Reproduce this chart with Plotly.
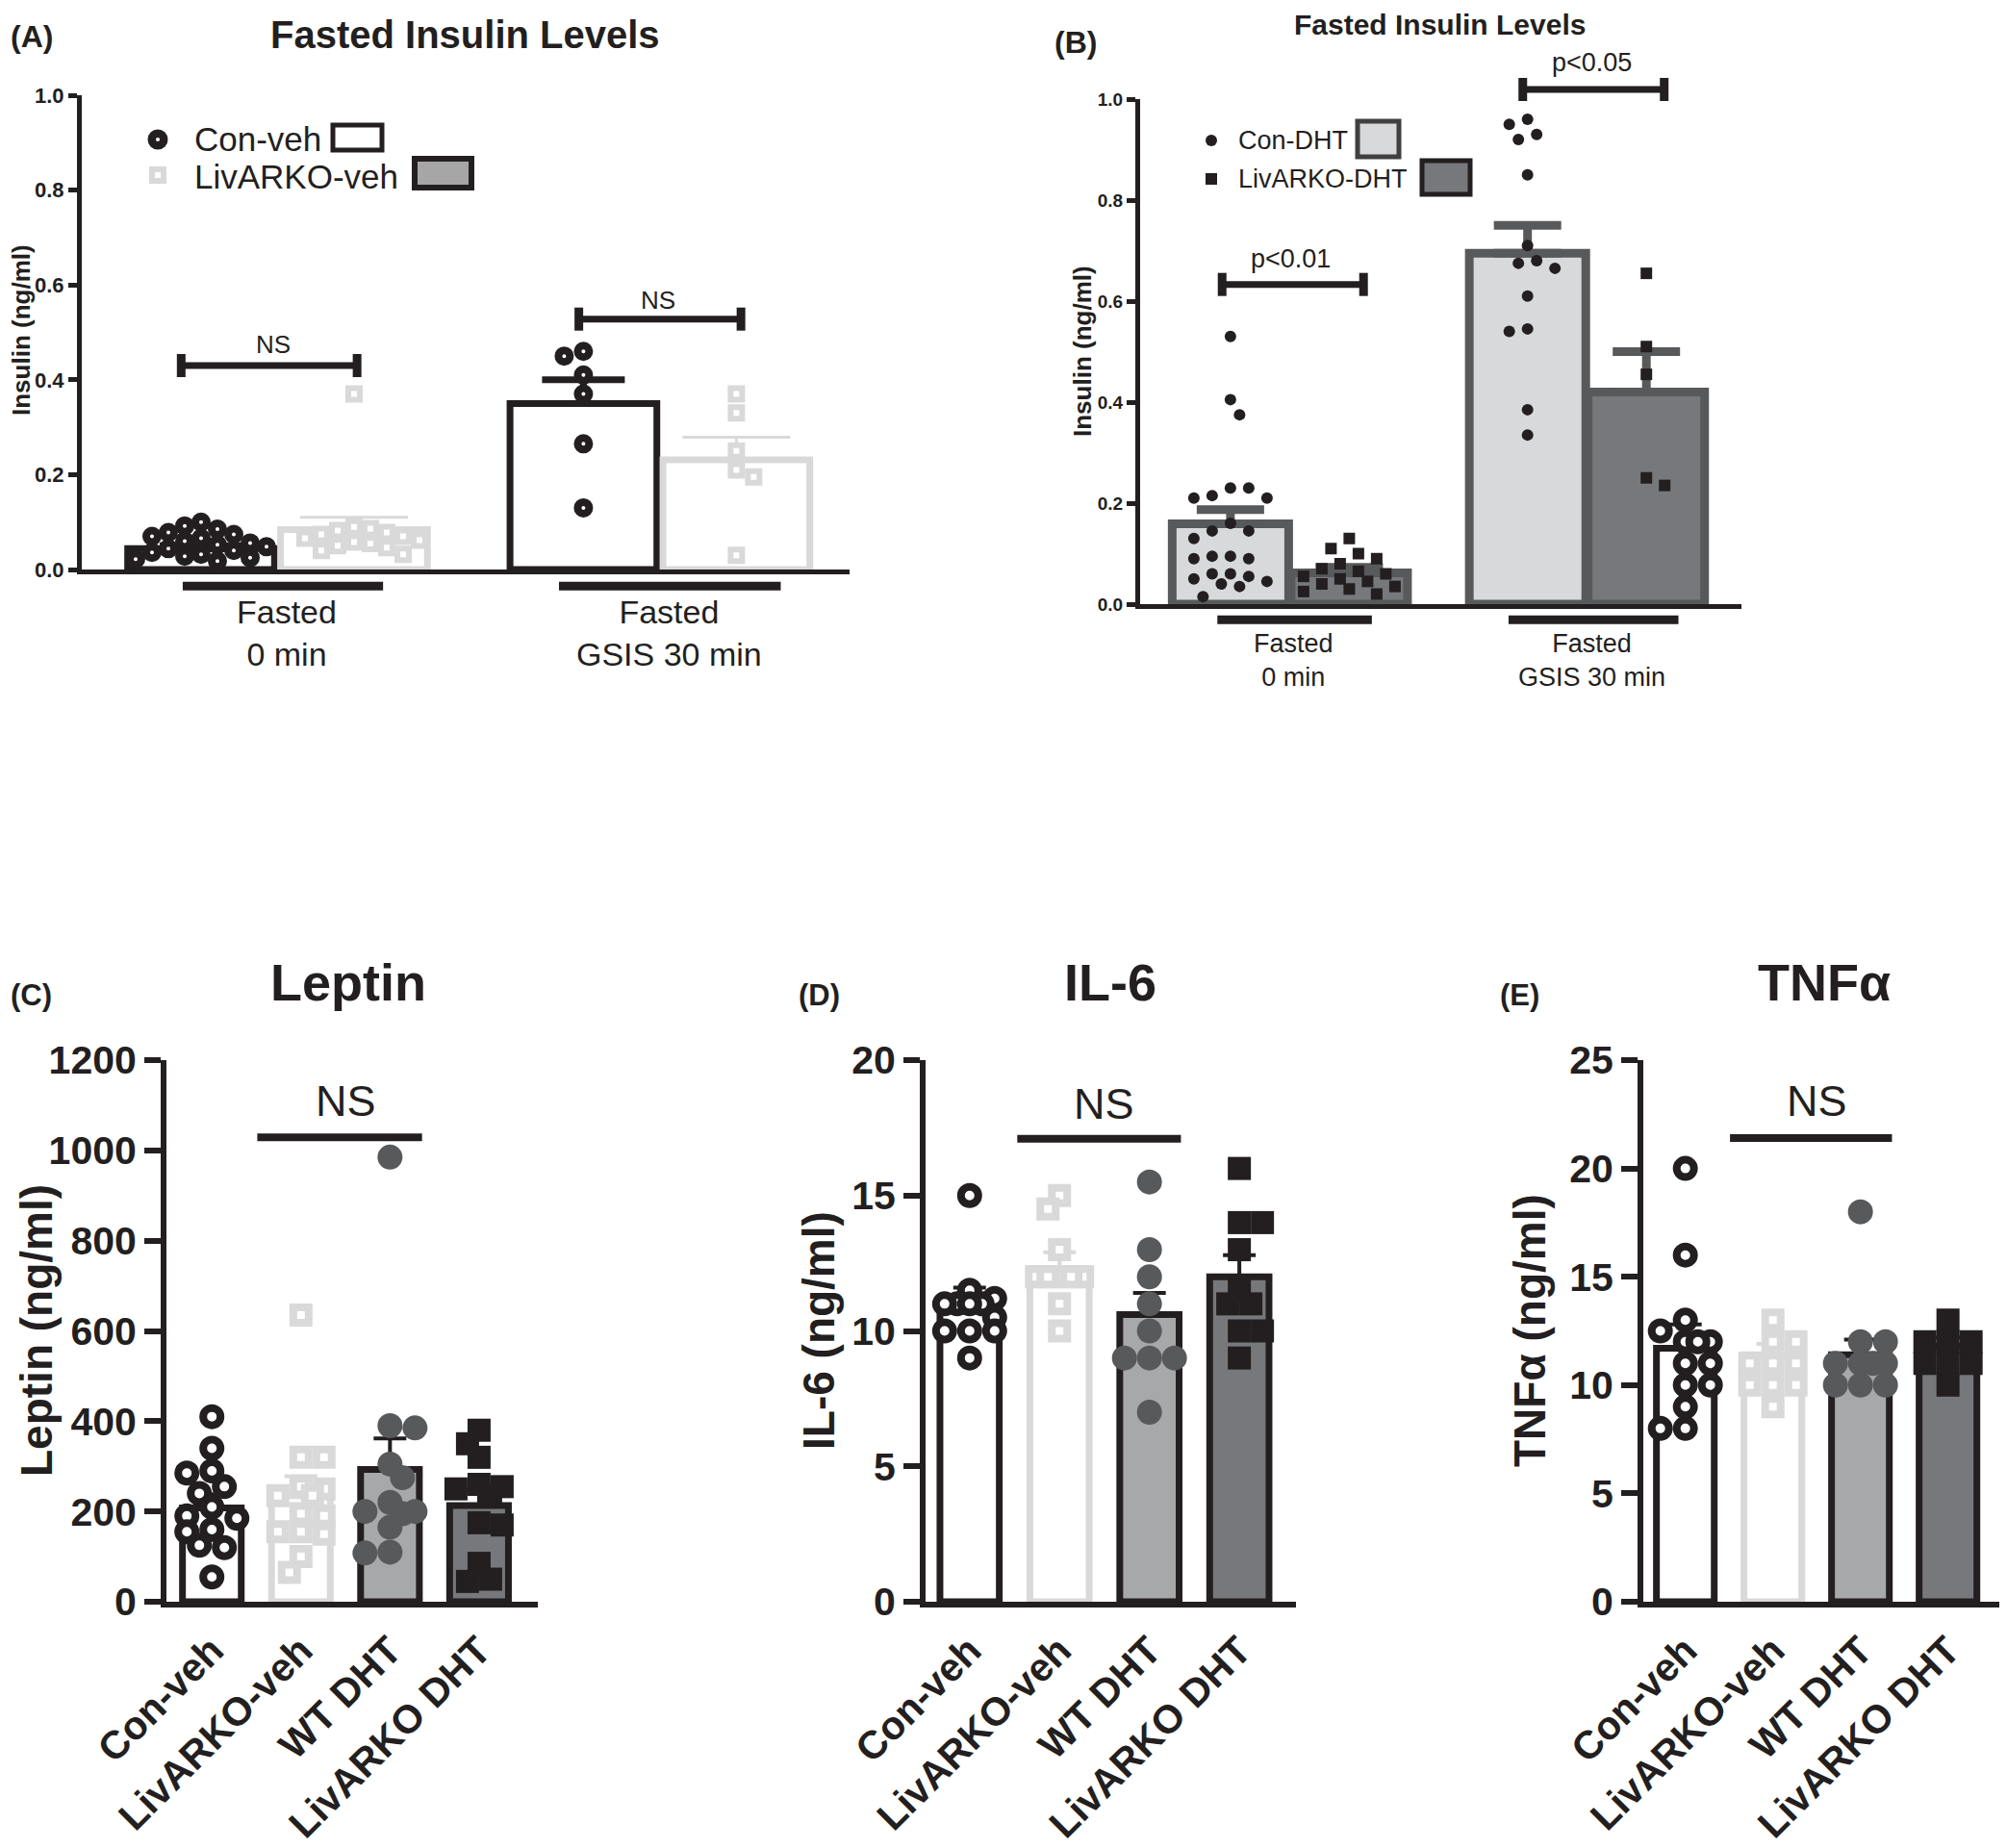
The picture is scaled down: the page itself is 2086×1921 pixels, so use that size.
import plotly.graph_objects as go

W, H = 2086, 1921
PAD = 8  # default page margin around the plot div
INK = '#231f20'
LIGHT = '#d9d9d9'
MID = '#a7a8aa'
DARK = '#77787b'
GRAPH = '#58595b'
SANS = 'Liberation Sans, Arial, sans-serif'

# ---- (A) fasted insulin, vehicle groups (ng/ml) ----
a_con_0 = [0.100, 0.092, 0.085, 0.078, 0.074, 0.070, 0.066, 0.060, 0.056, 0.052,
           0.048, 0.044, 0.040, 0.036, 0.032, 0.028, 0.025, 0.022, 0.018]
a_liv_0 = [0.370, 0.090, 0.086, 0.082, 0.078, 0.074, 0.070, 0.066, 0.062, 0.058,
           0.055, 0.050, 0.046, 0.040, 0.032]
a_con_30 = [0.460, 0.450, 0.410, 0.370, 0.265, 0.130]
a_liv_30 = [0.370, 0.330, 0.250, 0.210, 0.195, 0.030]
a_con_mean = [0.044, 0.350]
a_con_sem = [0.006, 0.050]
a_liv_mean = [0.084, 0.231]
a_liv_sem = [0.026, 0.048]

# ---- (B) fasted insulin, DHT groups (ng/ml) ----
b_con_0 = [0.530, 0.405, 0.375, 0.230, 0.230, 0.215, 0.210, 0.210, 0.160, 0.145,
           0.145, 0.130, 0.095, 0.095, 0.090, 0.090, 0.060, 0.060, 0.055, 0.050,
           0.045, 0.040, 0.035, 0.015]
b_liv_0 = [0.130, 0.110, 0.100, 0.090, 0.080, 0.070, 0.065, 0.060, 0.055, 0.050,
           0.045, 0.040, 0.035, 0.030, 0.025, 0.020]
b_con_30 = [0.960, 0.950, 0.930, 0.920, 0.850, 0.710, 0.680, 0.675, 0.665, 0.610,
            0.545, 0.540, 0.385, 0.335]
b_liv_30 = [0.655, 0.510, 0.455, 0.250, 0.235]
b_con_mean = [0.159, 0.695]
b_con_sem = [0.028, 0.055]
b_liv_mean = [0.062, 0.420]
b_liv_sem = [0.011, 0.080]

insulin_groups = ['Fasted<br>0 min', 'Fasted<br>GSIS 30 min']

# ---- (C)-(E) serum markers ----
groups = ['Con-veh', 'LivARKO-veh', 'WT DHT', 'LivARKO DHT']

leptin_con = [410, 340, 290, 285, 255, 240, 210, 190, 185, 160, 155, 125, 120, 55]
leptin_liv = [635, 320, 320, 255, 250, 235, 235, 195, 190, 155, 155, 150, 100, 65]
leptin_wt = [985, 390, 385, 305, 275, 220, 200, 200, 195, 165, 110, 108]
leptin_ldht = [380, 350, 320, 260, 255, 250, 235, 175, 170, 85, 50, 45]
leptin_mean = [208, 235, 293, 213]
leptin_sem = [30, 43, 69, 36]

il6_con = [15.0, 11.5, 11.2, 11.0, 11.0, 11.0, 11.0, 10.5, 10.0, 10.0, 10.0, 9.0]
il6_liv = [15.0, 14.5, 13.0, 12.0, 12.0, 12.0, 12.0, 12.0, 11.0, 10.0]
il6_wt = [15.5, 13.0, 12.0, 11.0, 10.0, 9.0, 9.0, 9.0, 7.0]
il6_ldht = [16.0, 14.0, 14.0, 13.0, 11.5, 11.0, 11.0, 10.0, 10.0, 9.0]
il6_mean = [11.0, 12.3, 10.6, 12.0]
il6_sem = [0.6, 0.6, 0.8, 0.8]

tnf_con = [20.0, 16.0, 13.0, 12.5, 12.0, 12.0, 12.0, 11.0, 11.0, 10.0, 10.0, 9.0, 8.0, 8.0]
tnf_liv = [13.0, 12.0, 12.0, 11.0, 11.0, 11.0, 10.0, 10.0, 10.0, 9.0]
tnf_wt = [18.0, 12.0, 12.0, 11.0, 11.0, 11.0, 11.0, 10.0, 10.0, 10.0]
tnf_ldht = [13.0, 12.0, 12.0, 12.0, 11.0, 11.0, 11.0, 10.0]
tnf_mean = [11.7, 11.4, 11.4, 11.8]
tnf_sem = [1.1, 0.5, 0.7, 0.4]

FW, FH = W - PAD, H - PAD


def fx(px):
    return (px - PAD) / FW


def fy(py):
    return 1 - (py - PAD) / FH


# panel frames in page pixels: (left, right, top, bottom), axis ranges
panels = {
    'A': dict(n='', box=(85, 883, 99, 592), xr=(-0.78, 4.24), yr=(0, 1.0), spread=0.88, reach=0.48),
    'B': dict(n='2', box=(1185, 1810, 103, 628), xr=(-0.76, 4.3), yr=(0, 1.0), spread=0.88, reach=0.40),
    'C': dict(n='3', box=(173, 559, 1102, 1665), xr=(-0.51, 3.66), yr=(0, 1200), spread=0.72, reach=0.36),
    'D': dict(n='4', box=(962, 1347, 1102, 1665), xr=(-0.49, 3.63), yr=(0, 20), spread=0.72, reach=0.36),
    'E': dict(n='5', box=(1708, 2082, 1102, 1665), xr=(-0.48, 3.63), yr=(0, 25), spread=0.72, reach=0.36),
}
for p in panels.values():
    l, r, t, b = p['box']
    p['xppu'] = (r - l) / (p['xr'][1] - p['xr'][0])
    p['yppu'] = (b - t) / (p['yr'][1] - p['yr'][0])


def ypaper(p, v):
    l, r, t, b = p['box']
    return fy(b - (v - p['yr'][0]) * p['yppu'])


def swarm(vals, center, p, diam):
    # spread overlapping points sideways (Prism-style scatter dot plot),
    # but keep them within reach of the bar
    order = sorted(range(len(vals)), key=lambda i: vals[i], reverse=True)
    placed = []
    xs = [center] * len(vals)
    step = diam * 0.5
    gap = diam * p['spread']
    reach = p['reach'] * p['xppu']
    for i in order:
        y = vals[i] * p['yppu']
        best, best_d = 0.0, -1.0
        chosen = None
        k = 0
        while chosen is None and k * step <= reach:
            cands = [0.0] if k == 0 else [k * step, -k * step]
            if len(placed) % 2 and k:
                cands.reverse()
            for o in cands:
                d = min([((o - px) ** 2 + (y - py) ** 2) ** 0.5 for px, py in placed] or [1e9])
                if d >= gap:
                    chosen = o
                    break
                if d > best_d:
                    best, best_d = o, d
            k += 1
        off = best if chosen is None else chosen
        placed.append((off, y))
        xs[i] = center + off / p['xppu']
    return xs


fig = go.Figure()
shapes = []
annotations = []


def bar(p, xs, means, sems, fill, edge, lw, ecolor, ethick, ewidth, bw):
    fig.add_trace(go.Bar(
        x=xs, y=means, width=bw, xaxis='x' + p['n'], yaxis='y' + p['n'],
        marker=dict(color=fill, line=dict(color=edge, width=lw)),
        error_y=dict(type='data', array=sems, arrayminus=[0] * len(sems), symmetric=False,
                     color=ecolor, thickness=ethick, width=ewidth),
    ))


def dots(p, vals, center, marker, diam):
    fig.add_trace(go.Scatter(
        x=swarm(vals, center, p, diam), y=vals, mode='markers',
        xaxis='x' + p['n'], yaxis='y' + p['n'], marker=marker, cliponaxis=False,
    ))


def hline(p, x0, x1, v, color, width):
    shapes.append(dict(type='line', xref='x' + p['n'], yref='paper', x0=x0, x1=x1,
                       y0=ypaper(p, v), y1=ypaper(p, v), line=dict(color=color, width=width)))


def bracket(p, x0, x1, v, cap, color, width):
    hline(p, x0, x1, v, color, width)
    for x in (x0, x1):
        shapes.append(dict(type='line', xref='x' + p['n'], yref='paper', x0=x, x1=x,
                           y0=ypaper(p, v) - cap / FH, y1=ypaper(p, v) + cap / FH,
                           line=dict(color=color, width=width + 2)))


def text(x, y, s, size, xanchor='center', angle=0, bold=False, xref='paper'):
    annotations.append(dict(x=x, y=y, xref=xref, yref='paper', text=s, showarrow=False,
                            textangle=angle, xanchor=xanchor, yanchor='middle',
                            font=dict(family=SANS, size=size, color=INK,
                                      weight='bold' if bold else 'normal')))


def box(x0, x1, y0, y1, fill, edge=None, lw=0, kind='rect'):
    shapes.append(dict(type=kind, xref='paper', yref='paper', x0=fx(x0), x1=fx(x1), y0=fy(y1), y1=fy(y0),
                       fillcolor=fill, line=dict(color=edge or fill, width=lw)))


# ---------- (A) ----------
pA = panels['A']
a_con_pos = [0, 2.5]
a_liv_pos = [1, 3.5]
bar(pA, a_con_pos, a_con_mean, a_con_sem, 'white', INK, 7, INK, 7, 43, 0.96)
bar(pA, a_liv_pos, a_liv_mean, a_liv_sem, 'white', LIGHT, 7, LIGHT, 3, 56, 0.96)
a_con_mk = dict(symbol='circle', size=12, color='white', line=dict(color=INK, width=8))
a_liv_mk = dict(symbol='square', size=12, color='white', line=dict(color=LIGHT, width=6))
dots(pA, a_con_0, a_con_pos[0], a_con_mk, 17)
dots(pA, a_con_30, a_con_pos[1], a_con_mk, 20)
dots(pA, a_liv_0, a_liv_pos[0], a_liv_mk, 17)
dots(pA, a_liv_30, a_liv_pos[1], a_liv_mk, 18)
bracket(pA, -0.13, 1.02, 0.43, 12, INK, 7)
bracket(pA, 2.47, 3.53, 0.528, 12, INK, 7)
hline(pA, -0.12, 1.19, -0.035, INK, 9)
hline(pA, 2.34, 3.79, -0.035, INK, 9)
text(0.47, ypaper(pA, 0.474), 'NS', 26, xref='x')
text(2.99, ypaper(pA, 0.568), 'NS', 26, xref='x')
for gx, lab in zip([0.56, 3.06], insulin_groups):
    text(gx, fy(658), lab, 34, xref='x')
text(fx(9), fy(38), '(A)', 32, xanchor='left', bold=True)
text(fx(483), fy(36), 'Fasted Insulin Levels', 40, bold=True)
text(fx(22), fy(343), 'Insulin (ng/ml)', 26, angle=-90, bold=True)
# legend (A)
box(153.5, 174.5, 134.5, 155.5, INK, kind='circle')
box(162, 166, 143, 147, 'white', kind='circle')
box(158, 170, 176, 188, 'white', LIGHT, 6)
box(346, 397, 130, 156, 'white', INK, 5)
box(431, 490, 165, 195, '#a6a6a6', INK, 6)
text(fx(200), fy(145), 'Con-veh', 35, xanchor='left')
text(fx(200), fy(183), 'LivARKO-veh', 35, xanchor='left')

# ---------- (B) ----------
pB = panels['B']
b_con_pos = [0, 2.5]
b_liv_pos = [1, 3.5]
bar(pB, b_con_pos, b_con_mean, b_con_sem, '#d8d9db', GRAPH, 9, GRAPH, 9, 35, 0.98)
bar(pB, b_liv_pos, b_liv_mean, b_liv_sem, DARK, GRAPH, 9, GRAPH, 9, 35, 0.98)
b_con_mk = dict(symbol='circle', size=12, color=INK)
b_liv_mk = dict(symbol='square', size=12, color=INK)
dots(pB, b_con_0, b_con_pos[0], b_con_mk, 19)
dots(pB, b_con_30, b_con_pos[1], b_con_mk, 19)
dots(pB, b_liv_0, b_liv_pos[0], b_liv_mk, 19)
dots(pB, b_liv_30, b_liv_pos[1], b_liv_mk, 19)
bracket(pB, -0.07, 1.12, 0.633, 12, INK, 7)
bracket(pB, 2.46, 3.65, 1.019, 12, INK, 7)
hline(pB, -0.11, 1.19, -0.031, INK, 9)
hline(pB, 2.34, 3.77, -0.031, INK, 9)
text(0.51, ypaper(pB, 0.683), 'p<0.01', 27, xref='x2')
text(3.04, ypaper(pB, 1.073), 'p<0.05', 27, xref='x2')
for gx, lab in zip([0.53, 3.04], insulin_groups):
    text(gx, fy(686), lab, 27, xref='x2')
text(fx(1094), fy(44), '(B)', 32, xanchor='left', bold=True)
text(fx(1496), fy(26), 'Fasted Insulin Levels', 30, bold=True)
text(fx(1125), fy(365), 'Insulin (ng/ml)', 26, angle=-90, bold=True)
box(1253, 1265, 140, 152, INK, kind='circle')
box(1253, 1265, 180, 192, INK)
box(1411, 1454, 126, 163, '#d8d9db', '#404041', 5)
box(1478, 1528, 167, 202, DARK, INK, 5)
text(fx(1285), fy(146), 'Con-DHT', 27, xanchor='left')
text(fx(1285), fy(186), 'LivARKO-DHT', 27, xanchor='left')

# ---------- (C), (D), (E) ----------
bar_fill = ['white', 'white', MID, DARK]
bar_edge = [INK, LIGHT, INK, INK]
markers = [
    dict(symbol='circle', size=18, color='white', line=dict(color=INK, width=8)),
    dict(symbol='square', size=16, color='white', line=dict(color=LIGHT, width=8)),
    dict(symbol='circle', size=26, color=GRAPH, line=dict(width=0)),
    dict(symbol='square', size=24, color=INK, line=dict(width=0)),
]
diams = [26, 24, 26, 24]
cyto = [
    ('C', 'Leptin', 'Leptin (ng/ml)', [leptin_con, leptin_liv, leptin_wt, leptin_ldht],
     leptin_mean, leptin_sem, (0.51, 2.36, 1029), 1110, 362, 9, 38),
    ('D', 'IL-6', 'IL-6 (ng/ml)', [il6_con, il6_liv, il6_wt, il6_ldht],
     il6_mean, il6_sem, (0.53, 2.35, 17.1), 18.4, 1154, 828, 851),
    ('E', 'TNFα', 'TNFα (ng/ml)', [tnf_con, tnf_liv, tnf_wt, tnf_ldht],
     tnf_mean, tnf_sem, (0.51, 2.36, 21.4), 23.1, 1896, 1557, 1590),
]
for key, title, ytitle, sets, means, sems, ns, ns_y, tx, lx, yx in cyto:
    p = panels[key]
    for i in range(4):
        bar(p, [i], [means[i]], [sems[i]], bar_fill[i], bar_edge[i], 7, bar_edge[i], 4, 17, 0.66)
    for i in range(4):
        dots(p, sets[i], i, markers[i], diams[i])
    hline(p, ns[0], ns[1], ns[2], INK, 8)
    text(1.5, ypaper(p, ns_y), 'NS', 45, xref='x' + p['n'])
    text(fx(tx), fy(1021), title, 54, bold=True)
    text(fx(lx), fy(1034), '(%s)' % key, 31, xanchor='left', bold=True)
    text(fx(yx), fy(1383), ytitle, 46, angle=-90, bold=True)

# ---------- axes ----------
layout_axes = {}
for key, p in panels.items():
    l, r, t, b = p['box']
    n = p['n']
    bottom = key in 'CDE'
    layout_axes['xaxis' + n] = dict(
        domain=[fx(l), fx(r)], range=list(p['xr']), anchor='y' + n, automargin=False,
        showline=True, linecolor=INK, linewidth=6 if bottom else 5, showgrid=False, zeroline=False,
        tickmode='array', tickvals=list(range(4)) if bottom else [],
        ticktext=groups if bottom else [], tickangle=-45 if bottom else 0,
        ticks='outside' if bottom else '', ticklen=4, tickcolor='rgba(0,0,0,0)',
        tickfont=dict(family=SANS, size=41, color=INK, weight='bold'),
    )
    if bottom:
        dt = {'C': 200, 'D': 5, 'E': 5}[key]
        yt = dict(tickmode='linear', tick0=0, dtick=dt, ticklen=17, tickwidth=6,
                  tickfont=dict(family=SANS, size=41, color=INK, weight='bold'))
    else:
        yt = dict(tickmode='linear', tick0=0, dtick=0.2, tickformat='.1f', ticklen=9, tickwidth=5,
                  tickfont=dict(family=SANS, size=22 if key == 'A' else 19, color=INK, weight='bold'))
    layout_axes['yaxis' + n] = dict(
        domain=[fy(b), fy(t)], range=list(p['yr']), anchor='x' + n, automargin=False,
        showline=True, linecolor=INK, linewidth=6 if bottom else 5, showgrid=False, zeroline=False,
        ticks='outside', tickcolor=INK, **yt,
    )

fig.update_layout(
    width=FW, height=FH, margin=dict(l=0, r=0, t=0, b=0, autoexpand=False),
    paper_bgcolor='white', plot_bgcolor='white', showlegend=False,
    barmode='overlay', shapes=shapes, annotations=annotations, **layout_axes,
)
fig.write_html("out.html")
